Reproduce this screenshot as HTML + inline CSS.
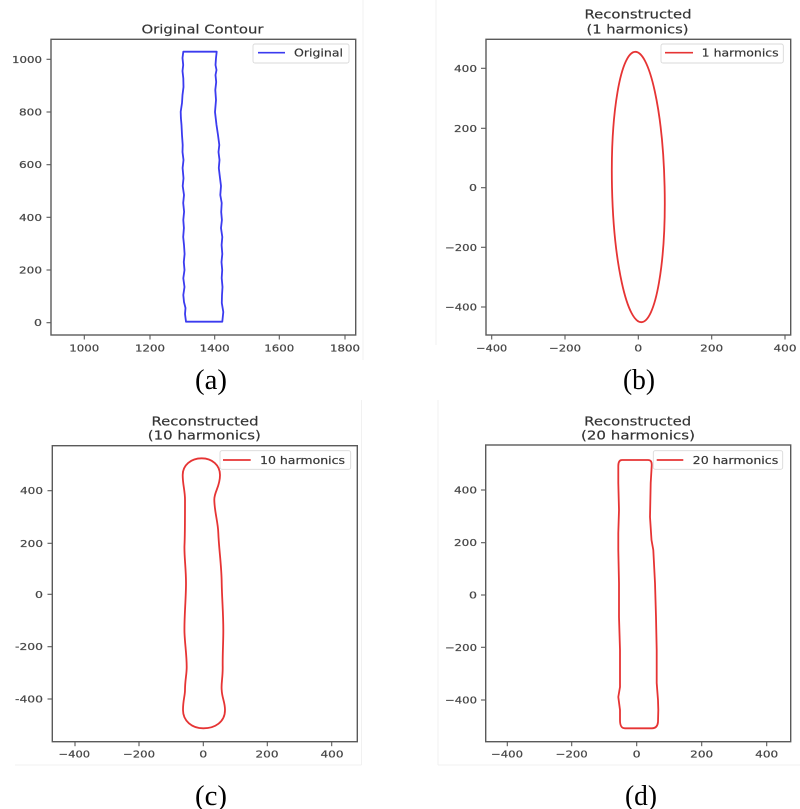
<!DOCTYPE html>
<html>
<head>
<meta charset="utf-8">
<style>
  html,body{margin:0;padding:0;background:#fff;}
  svg{display:block;filter:blur(0.35px);}
  .tk{font-family:"DejaVu Sans","Liberation Sans",sans-serif;font-size:10px;fill:#444;stroke:#555;stroke-width:0.25;}
  .lg{font-family:"DejaVu Sans","Liberation Sans",sans-serif;font-size:10.5px;fill:#333;stroke:#444;stroke-width:0.2;}
  .tt{font-family:"DejaVu Sans","Liberation Sans",sans-serif;font-size:12.5px;fill:#333;stroke:#444;stroke-width:0.2;}
  .cap{font-family:"Liberation Serif","Times New Roman",serif;font-size:29px;fill:#000;}
  .sp{fill:none;stroke:#5a5a5a;stroke-width:1.4;}
  .tm{stroke:#5a5a5a;stroke-width:1.1;}
</style>
</head>
<body>
<svg width="800" height="809" viewBox="0 0 800 809" xmlns="http://www.w3.org/2000/svg">
  <rect x="0" y="0" width="800" height="809" fill="#fff"/>
  <g stroke="#f1f1f1" stroke-width="1" fill="none">
    <line x1="363" y1="0" x2="363" y2="360"/>
    <line x1="361.5" y1="400" x2="361.5" y2="765"/>
    <line x1="15" y1="765" x2="361.5" y2="765"/>
    <line x1="438" y1="400" x2="438" y2="765"/>
    <line x1="438" y1="765" x2="800" y2="765"/>
    <line x1="436" y1="0" x2="436" y2="345"/>
  </g>

  <!-- ================= Panel (a) ================= -->
  <text class="tt" x="202.5" y="33.5" text-anchor="middle" textLength="122" lengthAdjust="spacingAndGlyphs">Original Contour</text>
  <rect class="sp" x="51" y="39.3" width="304.7" height="295.7"/>
  <g class="tm">
    <line x1="46.5" y1="59.3" x2="51" y2="59.3"/>
    <line x1="46.5" y1="112" x2="51" y2="112"/>
    <line x1="46.5" y1="164.7" x2="51" y2="164.7"/>
    <line x1="46.5" y1="217.3" x2="51" y2="217.3"/>
    <line x1="46.5" y1="270" x2="51" y2="270"/>
    <line x1="46.5" y1="322.7" x2="51" y2="322.7"/>
    <line x1="84.3" y1="335" x2="84.3" y2="339.5"/>
    <line x1="150" y1="335" x2="150" y2="339.5"/>
    <line x1="214.7" y1="335" x2="214.7" y2="339.5"/>
    <line x1="279.3" y1="335" x2="279.3" y2="339.5"/>
    <line x1="345" y1="335" x2="345" y2="339.5"/>
  </g>
  <g class="tk" text-anchor="end">
    <text x="42" y="62.8" textLength="30" lengthAdjust="spacingAndGlyphs">1000</text>
    <text x="42" y="115.5" textLength="23" lengthAdjust="spacingAndGlyphs">800</text>
    <text x="42" y="168.2" textLength="23" lengthAdjust="spacingAndGlyphs">600</text>
    <text x="42" y="220.8" textLength="23" lengthAdjust="spacingAndGlyphs">400</text>
    <text x="42" y="273.5" textLength="23" lengthAdjust="spacingAndGlyphs">200</text>
    <text x="42" y="326.2" textLength="8" lengthAdjust="spacingAndGlyphs">0</text>
  </g>
  <g class="tk" text-anchor="middle">
    <text x="84.3" y="351.5" textLength="30" lengthAdjust="spacingAndGlyphs">1000</text>
    <text x="150" y="351.5" textLength="30" lengthAdjust="spacingAndGlyphs">1200</text>
    <text x="214.7" y="351.5" textLength="30" lengthAdjust="spacingAndGlyphs">1400</text>
    <text x="279.3" y="351.5" textLength="30" lengthAdjust="spacingAndGlyphs">1600</text>
    <text x="345" y="351.5" textLength="30" lengthAdjust="spacingAndGlyphs">1800</text>
  </g>
  <path d="M183.3,51.7 L216.7,51.7 L216,58 L215.5,65 L216.5,70 L215.5,75 L216.2,82 L215.3,90 L216,100 L215,112 L216.5,125 L218,135 L219.3,145 L218.5,152 L219.5,160 L218.8,168 L220,178 L221,186 L220.3,195 L221.7,203 L221.2,212 L221.9,220 L221,228 L222.3,237 L221.6,245 L222.3,254 L221.5,262 L222.2,270 L221.7,278 L222.5,287 L222,295 L221.8,303 L223.3,312 L222.3,321.7 L186,321.7 L185,314 L185.5,308 L184,302 L183.3,295 L184.5,287 L183.3,278.3 L184.5,270 L183.8,262 L184.6,254 L184,245 L183.2,237 L183.9,228 L183.3,220 L184.1,211.7 L183.2,203 L184,195 L182.7,186 L183.5,178.3 L182.6,168 L183.5,160 L182.5,152 L182.7,145 L182,135 L181.5,125 L180.9,118 L180.7,111.7 L182,103 L182.5,95 L183.5,87 L183.3,78.3 L182.5,71 L183.2,65 L182.5,58 L183.3,51.7 Z" fill="none" stroke="#3b3bef" stroke-width="1.8" stroke-linejoin="round"/>
  <rect x="253" y="44" width="96" height="19" rx="2" fill="#fff" stroke="#d9d9d9" stroke-width="0.9"/>
  <line x1="258" y1="52.7" x2="285" y2="52.7" stroke="#3b3bef" stroke-width="1.7"/>
  <text class="lg" x="294" y="56.5" textLength="49" lengthAdjust="spacingAndGlyphs">Original</text>
  <text class="cap" x="211" y="389" text-anchor="middle" textLength="32" lengthAdjust="spacingAndGlyphs">(a)</text>

  <!-- ================= Panel (b) ================= -->
  <text class="tt" x="638" y="18.5" text-anchor="middle" textLength="107" lengthAdjust="spacingAndGlyphs">Reconstructed</text>
  <text class="tt" x="637.5" y="33.5" text-anchor="middle" textLength="102" lengthAdjust="spacingAndGlyphs">(1 harmonics)</text>
  <rect class="sp" x="486" y="39.3" width="304.7" height="295.7"/>
  <g class="tm">
    <line x1="481" y1="68.3" x2="486" y2="68.3"/>
    <line x1="481" y1="128.3" x2="486" y2="128.3"/>
    <line x1="481" y1="187.7" x2="486" y2="187.7"/>
    <line x1="481" y1="247.3" x2="486" y2="247.3"/>
    <line x1="481" y1="307" x2="486" y2="307"/>
    <line x1="491.7" y1="335" x2="491.7" y2="339.5"/>
    <line x1="565" y1="335" x2="565" y2="339.5"/>
    <line x1="638.3" y1="335" x2="638.3" y2="339.5"/>
    <line x1="711.7" y1="335" x2="711.7" y2="339.5"/>
    <line x1="785" y1="335" x2="785" y2="339.5"/>
  </g>
  <g class="tk" text-anchor="end">
    <text x="477" y="71.8" textLength="23" lengthAdjust="spacingAndGlyphs">400</text>
    <text x="477" y="131.8" textLength="23" lengthAdjust="spacingAndGlyphs">200</text>
    <text x="477" y="191.2" textLength="8" lengthAdjust="spacingAndGlyphs">0</text>
    <text x="477" y="250.8" textLength="32" lengthAdjust="spacingAndGlyphs">−200</text>
    <text x="477" y="310.5" textLength="32" lengthAdjust="spacingAndGlyphs">−400</text>
  </g>
  <g class="tk" text-anchor="middle">
    <text x="491.7" y="351.5" textLength="31" lengthAdjust="spacingAndGlyphs">−400</text>
    <text x="565" y="351.5" textLength="32" lengthAdjust="spacingAndGlyphs">−200</text>
    <text x="638.3" y="351.5" textLength="8" lengthAdjust="spacingAndGlyphs">0</text>
    <text x="711.7" y="351.5" textLength="23" lengthAdjust="spacingAndGlyphs">200</text>
    <text x="785" y="351.5" textLength="23" lengthAdjust="spacingAndGlyphs">400</text>
  </g>
  <ellipse cx="638.3" cy="187" rx="26.3" ry="135.2" transform="rotate(-1.3 638.3 187)" fill="none" stroke="#e63434" stroke-width="1.8"/>
  <rect x="661" y="44" width="122.3" height="19" rx="2" fill="#fff" stroke="#d9d9d9" stroke-width="0.9"/>
  <line x1="665" y1="52.7" x2="693" y2="52.7" stroke="#e63434" stroke-width="1.7"/>
  <text class="lg" x="701.7" y="56.5" textLength="77" lengthAdjust="spacingAndGlyphs">1 harmonics</text>
  <text class="cap" x="639" y="389" text-anchor="middle" textLength="32" lengthAdjust="spacingAndGlyphs">(b)</text>

  <!-- ================= Panel (c) ================= -->
  <text class="tt" x="205" y="425.5" text-anchor="middle" textLength="107" lengthAdjust="spacingAndGlyphs">Reconstructed</text>
  <text class="tt" x="204.3" y="439.5" text-anchor="middle" textLength="113" lengthAdjust="spacingAndGlyphs">(10 harmonics)</text>
  <rect class="sp" x="52.3" y="445.7" width="305" height="296"/>
  <g class="tm">
    <line x1="47.5" y1="490.7" x2="52.3" y2="490.7"/>
    <line x1="47.5" y1="543.3" x2="52.3" y2="543.3"/>
    <line x1="47.5" y1="594.3" x2="52.3" y2="594.3"/>
    <line x1="47.5" y1="646.7" x2="52.3" y2="646.7"/>
    <line x1="47.5" y1="699" x2="52.3" y2="699"/>
    <line x1="75" y1="741.7" x2="75" y2="746.2"/>
    <line x1="139" y1="741.7" x2="139" y2="746.2"/>
    <line x1="203.3" y1="741.7" x2="203.3" y2="746.2"/>
    <line x1="267.3" y1="741.7" x2="267.3" y2="746.2"/>
    <line x1="331.7" y1="741.7" x2="331.7" y2="746.2"/>
  </g>
  <g class="tk" text-anchor="end">
    <text x="43" y="494.2" textLength="23" lengthAdjust="spacingAndGlyphs">400</text>
    <text x="43" y="546.8" textLength="23" lengthAdjust="spacingAndGlyphs">200</text>
    <text x="43" y="597.8" textLength="8" lengthAdjust="spacingAndGlyphs">0</text>
    <text x="43" y="650.2" textLength="28" lengthAdjust="spacingAndGlyphs">-200</text>
    <text x="43" y="702.5" textLength="28" lengthAdjust="spacingAndGlyphs">-400</text>
  </g>
  <g class="tk" text-anchor="middle">
    <text x="74.3" y="757.5" textLength="31.5" lengthAdjust="spacingAndGlyphs">−400</text>
    <text x="139" y="757.5" textLength="32" lengthAdjust="spacingAndGlyphs">−200</text>
    <text x="203.3" y="757.5" textLength="8" lengthAdjust="spacingAndGlyphs">0</text>
    <text x="267" y="757.5" textLength="23" lengthAdjust="spacingAndGlyphs">200</text>
    <text x="332" y="757.5" textLength="23" lengthAdjust="spacingAndGlyphs">400</text>
  </g>
  <path d="M201.7,458.3 C212,458.3 220,465 220,475 C220,487 214,492 214.3,500 C214.5,512 218,522 218.3,533 C219,550 221.5,565 221.7,583 C222,600 223.5,615 223.3,633 C223.2,645 222.5,655 222.7,667 C222.8,678 221,684 221.7,690 C222,698 225,702 225,710 C225,722 215,728.3 203.3,728.3 C192,728.3 183,721 183,710 C183,700 185,696 185,690 C185,680 186.7,675 186.7,667 C186.7,655 185,645 184.5,633 C184,618 186,600 186,583 C186,568 184,555 184.5,545 C185,535 185,520 185,500 C185,490 182.7,485 182.7,475 C182.7,465 191,458.3 201.7,458.3 Z" fill="none" stroke="#e63434" stroke-width="1.8"/>
  <rect x="220" y="450.7" width="130.7" height="18.6" rx="2" fill="#fff" stroke="#d9d9d9" stroke-width="0.9"/>
  <line x1="223" y1="460" x2="250.7" y2="460" stroke="#e63434" stroke-width="1.7"/>
  <text class="lg" x="260" y="463.8" textLength="85" lengthAdjust="spacingAndGlyphs">10 harmonics</text>
  <text class="cap" x="211" y="805" text-anchor="middle" textLength="32" lengthAdjust="spacingAndGlyphs">(c)</text>

  <!-- ================= Panel (d) ================= -->
  <text class="tt" x="637.7" y="425.5" text-anchor="middle" textLength="107" lengthAdjust="spacingAndGlyphs">Reconstructed</text>
  <text class="tt" x="638" y="439.5" text-anchor="middle" textLength="114" lengthAdjust="spacingAndGlyphs">(20 harmonics)</text>
  <rect class="sp" x="485.7" y="445" width="305" height="296.7"/>
  <g class="tm">
    <line x1="481" y1="490" x2="485.7" y2="490"/>
    <line x1="481" y1="542.7" x2="485.7" y2="542.7"/>
    <line x1="481" y1="595" x2="485.7" y2="595"/>
    <line x1="481" y1="647.3" x2="485.7" y2="647.3"/>
    <line x1="481" y1="700" x2="485.7" y2="700"/>
    <line x1="507.3" y1="741.7" x2="507.3" y2="746.2"/>
    <line x1="571.7" y1="741.7" x2="571.7" y2="746.2"/>
    <line x1="636.7" y1="741.7" x2="636.7" y2="746.2"/>
    <line x1="701.7" y1="741.7" x2="701.7" y2="746.2"/>
    <line x1="766.7" y1="741.7" x2="766.7" y2="746.2"/>
  </g>
  <g class="tk" text-anchor="end">
    <text x="477" y="493.5" textLength="23" lengthAdjust="spacingAndGlyphs">400</text>
    <text x="477" y="546.2" textLength="23" lengthAdjust="spacingAndGlyphs">200</text>
    <text x="477" y="598.5" textLength="8" lengthAdjust="spacingAndGlyphs">0</text>
    <text x="477" y="650.8" textLength="32" lengthAdjust="spacingAndGlyphs">−200</text>
    <text x="477" y="703.5" textLength="32" lengthAdjust="spacingAndGlyphs">−400</text>
  </g>
  <g class="tk" text-anchor="middle">
    <text x="507" y="757.5" textLength="32" lengthAdjust="spacingAndGlyphs">−400</text>
    <text x="571.7" y="757.5" textLength="32" lengthAdjust="spacingAndGlyphs">−200</text>
    <text x="636.7" y="757.5" textLength="8" lengthAdjust="spacingAndGlyphs">0</text>
    <text x="701.7" y="757.5" textLength="23" lengthAdjust="spacingAndGlyphs">200</text>
    <text x="766.7" y="757.5" textLength="23" lengthAdjust="spacingAndGlyphs">400</text>
  </g>
  <path d="M622,460 L648,460 C651,460 652,462 651.7,466 L650.7,483 L650,517 L651.5,540 L653.3,550 L655,583 L656,617 L656.7,650 L656.7,683 L658,700 L658.3,710 L658,722 C657.5,727 655,728.3 652,728.3 L625,728.3 C621,728.3 620,725 620,720 L620,710 L618.3,697 L620,687 L620,677 L620,650 L619,617 L619,583 L618.3,550 L618.3,533 L619,510 L618.3,483 L618.3,466 C618.3,462 619.5,460 622,460 Z" fill="none" stroke="#e63434" stroke-width="1.8" stroke-linejoin="round"/>
  <rect x="653.3" y="450.7" width="129.4" height="18.6" rx="2" fill="#fff" stroke="#d9d9d9" stroke-width="0.9"/>
  <line x1="656.7" y1="460" x2="683.3" y2="460" stroke="#e63434" stroke-width="1.7"/>
  <text class="lg" x="692.7" y="463.8" textLength="85.6" lengthAdjust="spacingAndGlyphs">20 harmonics</text>
  <text class="cap" x="641" y="805" text-anchor="middle" textLength="32" lengthAdjust="spacingAndGlyphs">(d)</text>
</svg>
</body>
</html>
